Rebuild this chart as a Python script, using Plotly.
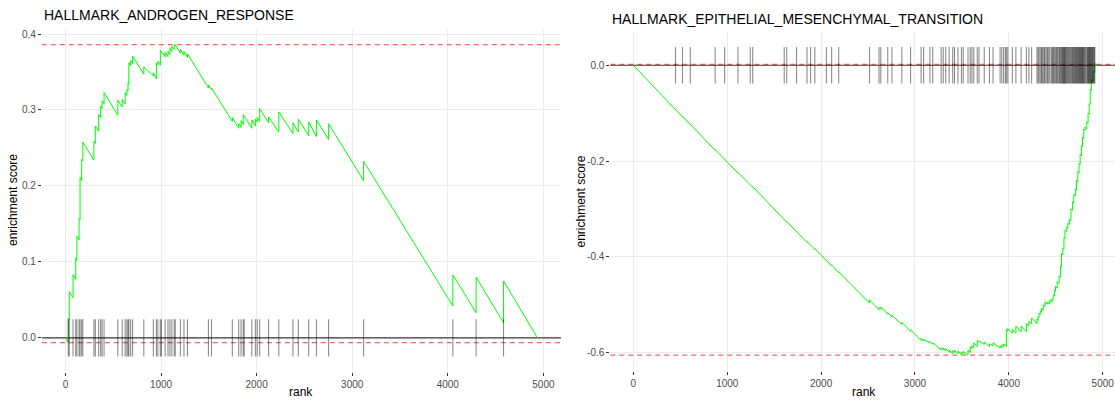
import plotly.graph_objects as go

# ---------------- data ----------------
title_left = "HALLMARK_ANDROGEN_RESPONSE"
title_right = "HALLMARK_EPITHELIAL_MESENCHYMAL_TRANSITION"

# hit ranks (gene positions of the set in the ranked list)
hits_left = [30, 40, 80, 108, 120, 143, 153, 170, 182, 298, 313, 348, 369, 383, 404,
             548, 594, 625, 643, 655, 663, 682, 703, 820, 920, 952, 967, 993, 1005,
             1043, 1073, 1093, 1113, 1138, 1149, 1202, 1240, 1277, 1496, 1528, 1746,
             1813, 1837, 1860, 1870, 1950, 1987, 2006, 2032, 2125, 2232, 2380, 2436,
             2545, 2626, 2753, 3119, 4053, 4296, 4583]

# running enrichment score vertices (rank, score)
es_left_rank = [0, 30, 30, 40, 40, 80, 80, 108, 108, 120, 120, 143, 143, 153, 153, 170, 170,
                182, 182, 298, 298, 313, 313, 348, 348, 369, 369, 383, 383, 404, 404,
                548, 548, 594, 594, 625, 625, 643, 643, 655, 655, 663, 663, 682, 682,
                703, 703, 820, 820, 920, 920, 952, 952, 967, 967, 993, 993, 1043, 1043,
                1073, 1073, 1093, 1093, 1113, 1113, 1138, 1138, 1149, 1149, 1202, 1202,
                1240, 1240, 1277, 1277, 1496, 1496, 1528, 1528, 1746, 1746, 1813, 1813,
                1837, 1837, 1860, 1860, 1950, 1950, 1987, 1987, 2006, 2006, 2032, 2032,
                2125, 2125, 2232, 2232, 2380, 2380, 2436, 2436, 2545, 2545, 2626, 2626,
                2753, 2753, 3119, 3119, 4053, 4053, 4296, 4296, 4583, 4583, 4938]
es_left_score = [0.0, -0.0062, 0.026, 0.024, 0.061, 0.053, 0.083, 0.077, 0.105, 0.102, 0.134,
                 0.129, 0.157, 0.155, 0.211, 0.207, 0.235, 0.233, 0.258, 0.234, 0.259,
                 0.256, 0.279, 0.272, 0.294, 0.290, 0.305, 0.302, 0.312, 0.308, 0.323,
                 0.293, 0.313, 0.304, 0.314, 0.308, 0.323, 0.319, 0.327, 0.325, 0.336,
                 0.334, 0.362, 0.358, 0.365, 0.361, 0.371, 0.347, 0.357, 0.345, 0.349,
                 0.341, 0.362, 0.359, 0.364, 0.359, 0.379, 0.370, 0.376, 0.370, 0.377,
                 0.373, 0.381, 0.377, 0.384, 0.380, 0.386, 0.384, 0.386, 0.375, 0.380,
                 0.372, 0.377, 0.369, 0.374, 0.329, 0.333, 0.327, 0.329, 0.285, 0.290,
                 0.276, 0.282, 0.277, 0.286, 0.281, 0.294, 0.276, 0.287, 0.279, 0.288,
                 0.284, 0.290, 0.285, 0.302, 0.283, 0.291, 0.271, 0.2975, 0.269, 0.283,
                 0.271, 0.288, 0.266, 0.284, 0.265, 0.287, 0.261, 0.282, 0.207, 0.2326,
                 0.042, 0.083, 0.033, 0.080, 0.020, 0.075, 0.0]

hits_right = [449, 523, 606, 871, 972, 1114, 1245, 1271, 1607, 1634, 1738, 1850, 1888, 1933,
              2056, 2112, 2187, 2516, 2617, 2636, 2710, 2755, 2860, 2953, 3065, 3092, 3159,
              3189, 3279, 3301, 3327, 3364, 3402, 3421, 3458, 3495, 3514, 3565, 3589, 3607,
              3626, 3664, 3682, 3738, 3794, 3832, 3907, 3925, 3944, 3963, 3974, 3989, 4037,
              4075, 4131, 4187, 4213, 4243, 4300, 4312, 4322, 4335, 4348, 4355, 4366, 4378,
              4385, 4398, 4411, 4420, 4432, 4449, 4458, 4467, 4475, 4486, 4497, 4508, 4515,
              4524, 4535, 4542, 4550, 4561, 4568, 4575, 4580, 4587, 4592, 4598, 4605, 4612,
              4620, 4628, 4636, 4645, 4654, 4662, 4670, 4678, 4685, 4692, 4700, 4708, 4714,
              4721, 4728, 4735, 4742, 4748, 4755, 4760, 4766, 4773, 4780, 4785, 4792, 4798,
              4804, 4812, 4820, 4830, 4838, 4844, 4849, 4856, 4862, 4867, 4872, 4879, 4885,
              4891, 4897, 4905, 4910, 4916]

es_right_pairs = [
    (0, 0.0),
    (449, -0.0938), (449, -0.0923), (523, -0.1078), (523, -0.1063), (606, -0.1237), (606, -0.1222),
    (871, -0.1775), (871, -0.1760), (972, -0.1971), (972, -0.1956), (1114, -0.2253), (1114, -0.2238),
    (1245, -0.2512), (1245, -0.2497), (1271, -0.2551), (1271, -0.2536), (1607, -0.3239), (1607, -0.3224),
    (1634, -0.3280), (1634, -0.3265), (1738, -0.3482), (1738, -0.3467), (1850, -0.3702), (1850, -0.3687),
    (1888, -0.3766), (1888, -0.3751), (1933, -0.3845), (1933, -0.3830), (2056, -0.4087), (2056, -0.4072),
    (2112, -0.4189), (2112, -0.4174), (2187, -0.4331), (2187, -0.4316), (2516, -0.497), (2516, -0.490),
    (2617, -0.511), (2617, -0.506), (2636, -0.510), (2636, -0.505), (2710, -0.520), (2710, -0.517),
    (2755, -0.526), (2755, -0.523), (2860, -0.541), (2860, -0.537), (2953, -0.556), (2953, -0.553),
    (3065, -0.575), (3065, -0.570), (3092, -0.576), (3092, -0.573), (3159, -0.580), (3159, -0.577),
    (3189, -0.583), (3189, -0.580), (3279, -0.595), (3279, -0.590), (3301, -0.594), (3301, -0.591),
    (3327, -0.596), (3327, -0.592), (3364, -0.600), (3364, -0.595), (3402, -0.603), (3402, -0.596),
    (3421, -0.600), (3421, -0.595), (3458, -0.603), (3458, -0.597), (3495, -0.605), (3495, -0.599),
    (3514, -0.603), (3514, -0.598), (3565, -0.6056), (3565, -0.595), (3589, -0.600), (3589, -0.588),
    (3607, -0.592), (3607, -0.586), (3626, -0.590), (3626, -0.580), (3664, -0.588), (3664, -0.575),
    (3682, -0.579), (3682, -0.576), (3738, -0.583), (3738, -0.578), (3794, -0.588), (3794, -0.582),
    (3832, -0.586), (3832, -0.580), (3907, -0.591), (3907, -0.586), (3925, -0.590), (3925, -0.584),
    (3944, -0.588), (3944, -0.582), (3974, -0.588), (3974, -0.552), (3989, -0.555), (3989, -0.550),
    (4037, -0.560), (4037, -0.552), (4075, -0.560), (4075, -0.545), (4131, -0.557), (4131, -0.545),
    (4187, -0.557), (4187, -0.540), (4213, -0.545), (4213, -0.535), (4243, -0.541), (4243, -0.528),
    (4300, -0.540), (4300, -0.530), (4312, -0.533), (4312, -0.525), (4322, -0.527), (4322, -0.518),
    (4335, -0.521), (4335, -0.513), (4348, -0.516), (4348, -0.508), (4366, -0.512), (4366, -0.500),
    (4385, -0.504), (4385, -0.494), (4411, -0.499), (4411, -0.495), (4432, -0.499), (4432, -0.492),
    (4449, -0.496), (4449, -0.489), (4467, -0.493), (4467, -0.488), (4475, -0.490), (4475, -0.480),
    (4486, -0.482), (4486, -0.470), (4497, -0.472), (4497, -0.462), (4515, -0.466), (4515, -0.452),
    (4535, -0.456), (4535, -0.440), (4550, -0.443), (4550, -0.420), (4561, -0.422), (4561, -0.393),
    (4575, -0.396), (4575, -0.382), (4587, -0.384), (4587, -0.360), (4598, -0.362), (4598, -0.345),
    (4612, -0.348), (4612, -0.338), (4628, -0.341), (4628, -0.330), (4645, -0.333), (4645, -0.322),
    (4662, -0.325), (4662, -0.300), (4678, -0.303), (4678, -0.285), (4692, -0.288), (4692, -0.270),
    (4708, -0.273), (4708, -0.258), (4721, -0.261), (4721, -0.240), (4735, -0.243), (4735, -0.222),
    (4748, -0.225), (4748, -0.205), (4760, -0.207), (4760, -0.186), (4773, -0.189), (4773, -0.168),
    (4785, -0.170), (4785, -0.150), (4798, -0.153), (4798, -0.133), (4812, -0.136), (4812, -0.129),
    (4830, -0.133), (4830, -0.118), (4844, -0.121), (4844, -0.100), (4856, -0.102), (4856, -0.080),
    (4867, -0.082), (4867, -0.050), (4879, -0.052), (4879, -0.030), (4897, -0.034), (4897, -0.012),
    (4916, -0.016), (4916, 0.004), (4938, 0.0),
]
es_right_rank = [p[0] for p in es_right_pairs]
es_right_score = [p[1] for p in es_right_pairs]

# summary lines (max / min ES), zero line and tick half-heights
es_extremes_left = [0.386, -0.0062]
es_extremes_right = [0.002, -0.6056]
zero_level = 0.0
tick_half_left = 0.0245
tick_half_right = 0.038

x_ticks = [0, 1000, 2000, 3000, 4000, 5000]
y_ticks_left = [0.0, 0.1, 0.2, 0.3, 0.4]
y_ticklabels_left = ["0.0", "0.1", "0.2", "0.3", "0.4"]
y_ticks_right = [0.0, -0.2, -0.4, -0.6]
y_ticklabels_right = ["0.0", "-0.2", "-0.4", "-0.6"]

# ---------------- figure ----------------
W, H = 1115, 400
FONT = "Liberation Sans, Arial, Helvetica, sans-serif"
GREEN = "#00ff00"
TICKCOL = "rgba(0,0,0,0.45)"

fig = go.Figure()

# reference lines drawn as traces (under the curve)
for xa, ya, rng, levels in [("x", "y", [-247, 5184], es_extremes_left),
                            ("x2", "y2", [-246, 5131], es_extremes_right)]:
    for v in levels:
        fig.add_trace(go.Scatter(x=rng, y=[v, v], mode="lines",
                                 line=dict(color="#ff6464", width=1.2, dash="5px,4px"),
                                 xaxis=xa, yaxis=ya, hoverinfo="skip", showlegend=False))
    fig.add_trace(go.Scatter(x=rng, y=[zero_level, zero_level], mode="lines",
                             line=dict(color="#3a3a3a", width=1.1),
                             xaxis=xa, yaxis=ya, hoverinfo="skip", showlegend=False))

fig.add_trace(go.Scatter(x=es_left_rank, y=es_left_score, mode="lines",
                         line=dict(color=GREEN, width=1), xaxis="x", yaxis="y",
                         hoverinfo="skip", showlegend=False))
fig.add_trace(go.Scatter(x=es_right_rank, y=es_right_score, mode="lines",
                         line=dict(color=GREEN, width=1), xaxis="x2", yaxis="y2",
                         hoverinfo="skip", showlegend=False))

for h in hits_left:
    fig.add_trace(go.Scatter(x=[h, h], y=[-tick_half_left, tick_half_left], mode="lines",
                             line=dict(color=TICKCOL, width=1.1), xaxis="x", yaxis="y",
                             hoverinfo="skip", showlegend=False))
for h in hits_right:
    fig.add_trace(go.Scatter(x=[h, h], y=[-tick_half_right, tick_half_right], mode="lines",
                             line=dict(color=TICKCOL, width=1.1), xaxis="x2", yaxis="y2",
                             hoverinfo="skip", showlegend=False))

axis_common = dict(showgrid=True, gridcolor="#ebebeb", gridwidth=1.1, zeroline=False,
                   showline=False, ticks="outside", ticklen=3, tickwidth=1,
                   tickcolor="#333333", tickfont=dict(family=FONT, size=10, color="#4d4d4d"))

fig.update_layout(
    width=W, height=H, margin=dict(l=0, r=0, t=0, b=0),
    paper_bgcolor="white", plot_bgcolor="white", showlegend=False,
    xaxis=dict(domain=[41.8 / W, 561 / W], range=[-247, 5184], tickvals=x_ticks,
               anchor="y", **axis_common),
    yaxis=dict(domain=[1 - 372.1 / H, 1 - 28.7 / H], range=[-0.045, 0.407],
               tickvals=y_ticks_left, ticktext=y_ticklabels_left, anchor="x", **axis_common),
    xaxis2=dict(domain=[610.3 / W, 1.0], range=[-246, 5131], tickvals=x_ticks,
                anchor="y2", **axis_common),
    yaxis2=dict(domain=[1 - 370.6 / H, 1 - 31.8 / H], range=[-0.638, 0.07],
                tickvals=y_ticks_right, ticktext=y_ticklabels_right, anchor="x2", **axis_common),
)

ann = []
ann.append(dict(text=title_left, x=41.8 / W, y=1 - 15.5 / H, xref="paper", yref="paper",
                xanchor="left", yanchor="middle", showarrow=False,
                font=dict(family=FONT, size=14, color="black")))
ann.append(dict(text=title_right, x=610.3 / W, y=1 - 18.7 / H, xref="paper", yref="paper",
                xanchor="left", yanchor="middle", showarrow=False,
                font=dict(family=FONT, size=14, color="black")))
for xc, yc in [(13, 200), (580, 201.5)]:
    ann.append(dict(text="enrichment score", x=xc / W, y=1 - yc / H, xref="paper", yref="paper",
                    xanchor="center", yanchor="middle", textangle=-90, showarrow=False,
                    font=dict(family=FONT, size=12, color="black")))
for xc in [301, 864]:
    ann.append(dict(text="rank", x=xc / W, y=1 - 391.5 / H, xref="paper", yref="paper",
                    xanchor="center", yanchor="middle", showarrow=False,
                    font=dict(family=FONT, size=12, color="black")))
fig.update_layout(annotations=ann)

fig.write_html("out.html")
